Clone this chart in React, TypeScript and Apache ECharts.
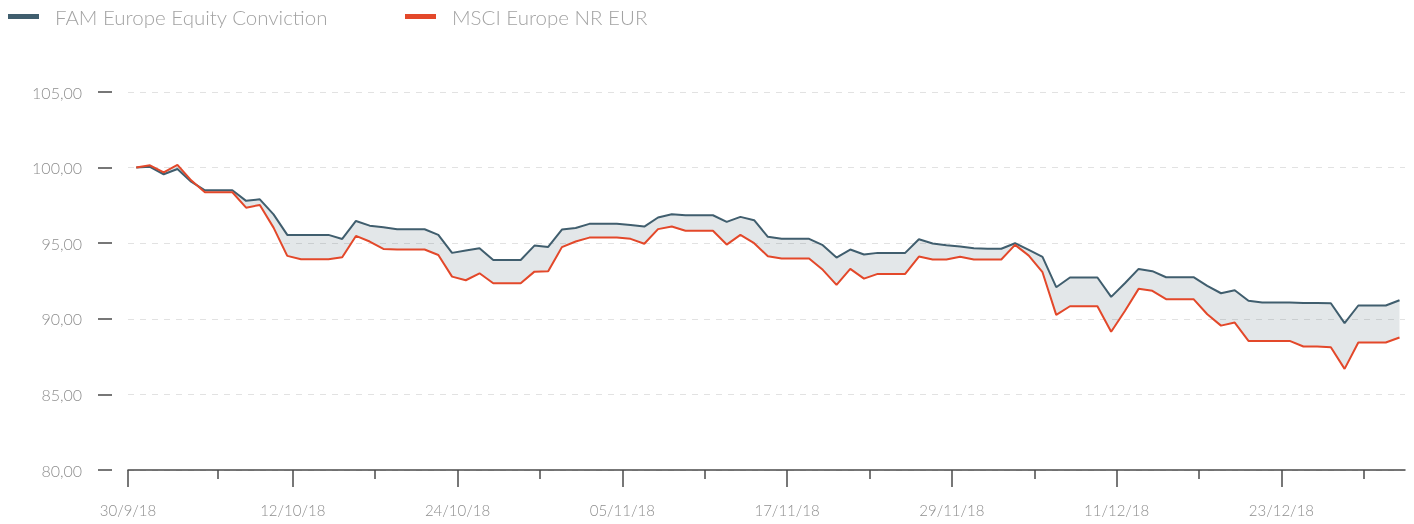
import React, { useEffect, useRef } from "react";
import * as echarts from "echarts";

// ---- data (daily values, first day 30/9/18) ----
const SERIES_NAMES = ["FAM Europe Equity Conviction", "MSCI Europe NR EUR"];

const FAM_VALUES = [
  100.0, 100.05, 99.56, 99.91, 99.07, 98.5, 98.5, 98.5, 97.8, 97.9,
  96.91, 95.55, 95.55, 95.55, 95.55, 95.28, 96.47, 96.16, 96.05, 95.92,
  95.92, 95.92, 95.55, 94.36, 94.51, 94.66, 93.89, 93.89, 93.89, 94.84,
  94.75, 95.9, 96.01, 96.28, 96.28, 96.28, 96.21, 96.1, 96.7, 96.92,
  96.85, 96.85, 96.85, 96.41, 96.74, 96.52, 95.42, 95.29, 95.29, 95.29,
  94.87, 94.05, 94.58, 94.25, 94.36, 94.36, 94.36, 95.26, 94.98, 94.87,
  94.78, 94.67, 94.63, 94.63, 95.0, 94.56, 94.1, 92.09, 92.73, 92.73,
  92.73, 91.45, 92.35, 93.3, 93.15, 92.75, 92.75, 92.75, 92.18, 91.69,
  91.89, 91.19, 91.08, 91.08, 91.08, 91.05, 91.05, 91.03, 89.71, 90.88,
  90.88, 90.88, 91.23,
];

const MSCI_VALUES = [
  100.0, 100.15, 99.69, 100.18, 99.16, 98.37, 98.37, 98.37, 97.35, 97.53,
  96.03, 94.16, 93.94, 93.94, 93.94, 94.07, 95.48, 95.11, 94.62, 94.58,
  94.58, 94.58, 94.22, 92.79, 92.55, 93.01, 92.35, 92.35, 92.35, 93.12,
  93.14, 94.74, 95.11, 95.37, 95.37, 95.37, 95.29, 94.96, 95.93, 96.1,
  95.82, 95.82, 95.82, 94.91, 95.55, 95.0, 94.14, 93.99, 93.99, 93.99,
  93.24, 92.24, 93.3, 92.66, 92.97, 92.97, 92.97, 94.12, 93.92, 93.92,
  94.1, 93.92, 93.92, 93.92, 94.89, 94.18, 93.08, 90.26, 90.83, 90.83,
  90.83, 89.14, 90.52, 91.98, 91.85, 91.3, 91.3, 91.3, 90.3, 89.55,
  89.75, 88.54, 88.54, 88.54, 88.54, 88.17, 88.17, 88.12, 86.69, 88.43,
  88.43, 88.43, 88.76,
];

// x-axis tick labels (every 12 days from 30/9/18)
const TICK_LABELS = [
  "30/9/18", "12/10/18", "24/10/18", "05/11/18",
  "17/11/18", "29/11/18", "11/12/18", "23/12/18",
];
const MAJOR_TICKS = [0, 12, 24, 36, 48, 60, 72, 84];
const MINOR_TICKS = [6.55, 18, 30, 42, 54, 66, 78, 90];

// axis layout (in days from axis start)
const X_MIN = 0;
const X_MAX = 93;
const POINT_OFFSET = 0.6;

const Y_MIN = 80;
const Y_MAX = 105;
const Y_STEP = 5;

const COLORS = {
  fam: "#405e6e",
  msci: "#e3482a",
  band: "rgba(64, 94, 110, 0.15)",
  label: "#8e8e8e",
  legend: "#a3a3a3",
  axis: "#4a4a4a",
  grid: "#e2e2e2",
};

export default function App() {
  const ref = useRef<HTMLDivElement>(null);

  useEffect(() => {
    if (!ref.current) return;
    const chart = echarts.init(ref.current, undefined, { renderer: "svg" });

    const xs = FAM_VALUES.map((_, i) => i + POINT_OFFSET);
    const famData = FAM_VALUES.map((v, i) => [xs[i], v]);
    const msciData = MSCI_VALUES.map((v, i) => [xs[i], v]);

    const font = "Lato, 'Open Sans', sans-serif";

    const legendCommon = {
      top: 6,
      padding: 0,
      itemWidth: 31,
      itemHeight: 5,
      icon: "rect",
      textStyle: {
        fontSize: 20.5,
        color: COLORS.legend,
        fontFamily: font,
        fontWeight: 300,
        padding: [0, 0, 0, 11],
      },
    };

    chart.setOption({
      animation: false,
      textStyle: { fontFamily: font },
      legend: [
        { ...legendCommon, left: 8, data: [SERIES_NAMES[0]] },
        { ...legendCommon, left: 405, data: [SERIES_NAMES[1]] },
      ],
      grid: { left: 128, right: 9, top: 92, bottom: 54, containLabel: false },
      xAxis: [
        {
          type: "value",
          min: X_MIN,
          max: X_MAX,
          position: "bottom",
          axisLine: { show: true, lineStyle: { color: COLORS.axis, width: 1.5 } },
          axisTick: {
            show: true,
            length: 17,
            customValues: MAJOR_TICKS,
            lineStyle: { color: COLORS.axis, width: 1.5 },
          },
          axisLabel: {
            show: true,
            customValues: MAJOR_TICKS,
            margin: 32,
            fontSize: 15,
            color: COLORS.label,
            fontFamily: font,
            fontWeight: 300,
            showMinLabel: true,
            formatter: (v: number) => {
              const idx = MAJOR_TICKS.indexOf(Math.round(v));
              return idx >= 0 ? TICK_LABELS[idx] : "";
            },
          },
          splitLine: { show: false },
        },
        {
          type: "value",
          min: X_MIN,
          max: X_MAX,
          position: "bottom",
          axisLine: { show: false },
          axisTick: {
            show: true,
            length: 9,
            customValues: MINOR_TICKS,
            lineStyle: { color: COLORS.axis, width: 1.5 },
          },
          axisLabel: { show: false },
          splitLine: { show: false },
        },
      ],
      yAxis: {
        type: "value",
        min: Y_MIN,
        max: Y_MAX,
        interval: Y_STEP,
        axisLine: { show: false },
        // tick drawn 16..30px left of the plot: gap first, then the visible dash
        axisTick: {
          show: true,
          length: 30,
          lineStyle: {
            color: COLORS.axis,
            width: 1.5,
            type: [14, 16],
            dashOffset: 14,
          },
        },
        axisLabel: {
          margin: 46,
          fontSize: 16,
          color: COLORS.label,
          fontFamily: font,
          fontWeight: 300,
          formatter: (v: number) => v.toFixed(2).replace(".", ","),
        },
        splitLine: {
          show: true,
          lineStyle: { color: COLORS.grid, type: [6, 6], width: 1 },
        },
      },
      series: [
        {
          name: "band",
          type: "custom",
          silent: true,
          z: 1,
          data: [famData[0]],
          encode: { x: 0, y: 1 },
          renderItem: (_params: any, api: any) => {
            const upper = famData.map((p) => api.coord(p));
            const lower = msciData.map((p) => api.coord(p)).reverse();
            return {
              type: "polygon",
              shape: { points: upper.concat(lower) },
              style: { fill: COLORS.band, stroke: "none" },
            };
          },
        },
        {
          name: SERIES_NAMES[0],
          type: "line",
          data: famData,
          symbol: "none",
          color: COLORS.fam,
          lineStyle: { color: COLORS.fam, width: 2 },
          z: 3,
        },
        {
          name: SERIES_NAMES[1],
          type: "line",
          data: msciData,
          symbol: "none",
          color: COLORS.msci,
          lineStyle: { color: COLORS.msci, width: 2 },
          z: 4,
        },
      ],
    });

    return () => chart.dispose();
  }, []);

  return (
    <div
      ref={ref}
      style={{ position: "fixed", left: 0, top: 0, width: 1414, height: 524 }}
    />
  );
}
